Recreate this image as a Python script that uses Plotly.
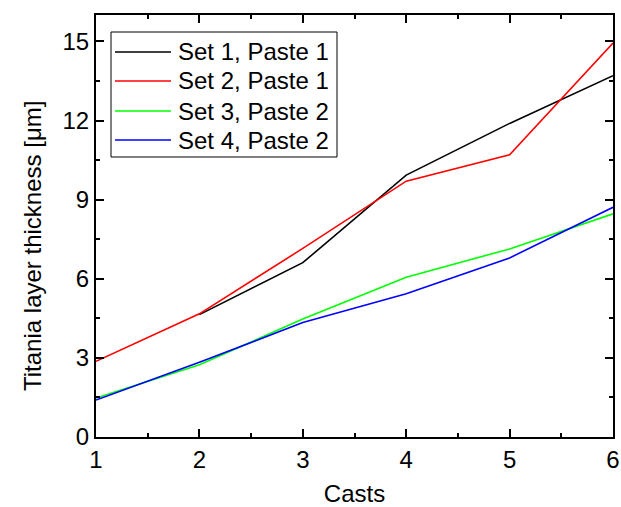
import plotly.graph_objects as go

casts = [1, 2, 3, 4, 5, 6]
set1_paste1 = [None, 4.64, 6.61, 9.93, 11.89, 13.70]
set2_paste1 = [2.87, 4.67, 7.15, 9.70, 10.70, 14.94]
set3_paste2 = [1.48, 2.74, 4.47, 6.06, 7.13, 8.46]
set4_paste2 = [1.40, 2.83, 4.34, 5.43, 6.79, 8.71]

names = ["Set 1, Paste 1", "Set 2, Paste 1", "Set 3, Paste 2", "Set 4, Paste 2"]
colors = ["#000000", "#ff0000", "#00ff00", "#0000ff"]
series = [set1_paste1, set2_paste1, set3_paste2, set4_paste2]

FONT = "Liberation Sans, Arial, sans-serif"
FS = 24

W, H = 621, 507
ML, MR, MT, MB = 96, 8, 15, 70
PW, PH = W - ML - MR, H - MT - MB


def px(x):
    return (x - ML) / PW


def py(y):
    return (H - MB - y) / PH


fig = go.Figure()
for n, c, s in zip(names, colors, series):
    fig.add_trace(go.Scatter(x=casts, y=s, mode="lines", name=n,
                             line=dict(color=c, width=1.6), connectgaps=False,
                             showlegend=False))

axis_common = dict(
    showgrid=False, zeroline=False, showline=True, linecolor="black", linewidth=2,
    mirror="ticks", ticks="inside", ticklen=8, tickwidth=1.5, tickcolor="black",
    tickfont=dict(family=FONT, size=FS, color="black"),
    minor=dict(ticks="inside", ticklen=4, tickwidth=1.5, tickcolor="black"),
    automargin=False,
)

fig.update_xaxes(range=[1, 6], dtick=1, tick0=1, minor_dtick=0.5,
                 title=dict(text="Casts", font=dict(family=FONT, size=FS, color="black"), standoff=14),
                 **axis_common)
fig.update_yaxes(range=[0, 16], dtick=3, tick0=0, minor_dtick=1.5, **axis_common)

annotations = [dict(text="Titania layer thickness [μm]", textangle=-90,
                    xref="paper", yref="paper", x=px(32), y=py(246),
                    xanchor="center", yanchor="middle", showarrow=False,
                    font=dict(family=FONT, size=FS, color="black"))]

# legend box (drawn by hand to match the reference's compact spacing)
shapes = [dict(type="rect", xref="paper", yref="paper",
               x0=px(111), x1=px(337), y0=py(157), y1=py(32),
               line=dict(color="black", width=1), fillcolor="white", layer="above")]
row_y = [52, 81, 111, 140]
for n, c, ry in zip(names, colors, row_y):
    shapes.append(dict(type="line", xref="paper", yref="paper",
                       x0=px(115), x1=px(171), y0=py(ry), y1=py(ry),
                       line=dict(color=c, width=1.5), layer="above"))
    annotations.append(dict(text=n, xref="paper", yref="paper", x=px(176), y=py(ry),
                            xanchor="left", yanchor="middle", showarrow=False,
                            font=dict(family=FONT, size=FS, color="black")))

fig.update_layout(
    width=W, height=H,
    margin=dict(l=ML, r=MR, t=MT, b=MB),
    paper_bgcolor="white", plot_bgcolor="white",
    showlegend=False,
    shapes=shapes, annotations=annotations,
)

fig.write_html("out.html")
